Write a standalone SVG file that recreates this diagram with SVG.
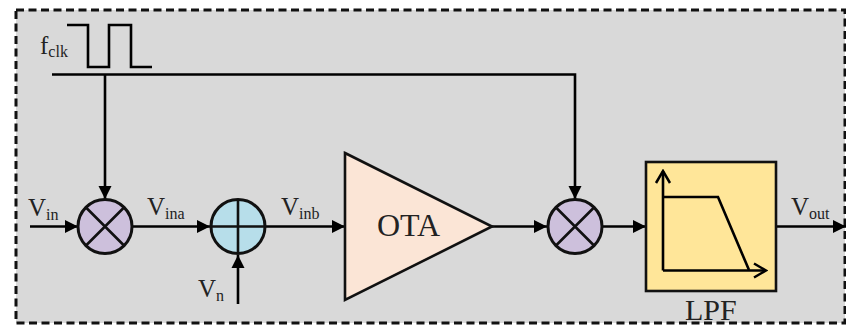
<svg xmlns="http://www.w3.org/2000/svg" width="846" height="325" viewBox="0 0 846 325">
<defs><marker id="a" markerUnits="userSpaceOnUse" markerWidth="14" markerHeight="14" refX="13" refY="7" orient="auto"><path d="M0 0.500L13 7L0 13.500Z" fill="#000"/></marker>
<marker id="o" markerUnits="userSpaceOnUse" markerWidth="16" markerHeight="18" refX="14" refY="9" orient="auto"><path d="M2 2L14 9L2 16" fill="none" stroke="#000" stroke-width="2.500"/></marker></defs>
<style>.l{fill:none;stroke:#000;stroke-width:2.600}.t{font-family:"Liberation Serif",serif;font-size:25px;fill:#222}.s{font-size:16px}.m{fill:#cdc0dc;stroke:#111;stroke-width:3}.c{fill:none;stroke:#111;stroke-width:2.600}</style>
<rect x="16" y="10" width="829" height="313" fill="#d9d9d9" stroke="#111" stroke-width="3" stroke-dasharray="8 4.500"/>
<g id="connectors">
<path class="l" d="M67 25H88V67H109V25H131V67H152"/>
<path class="l" d="M52 74.500H575V199" marker-end="url(#a)"/>
<path class="l" d="M105 74.500V199" marker-end="url(#a)"/>
<path class="l" d="M30 226.500H78" marker-end="url(#a)"/>
<path class="l" d="M133 226.500H210" marker-end="url(#a)"/>
<path class="l" d="M238 304V255" marker-end="url(#a)"/>
<path class="l" d="M266 226.500H345" marker-end="url(#a)"/>
<path class="l" d="M492 226.500H547" marker-end="url(#a)"/>
<path class="l" d="M603 226.500H646" marker-end="url(#a)"/>
<path class="l" d="M776 226.500H846" marker-end="url(#a)"/>
</g>
<g id="mixer1"><circle class="m" cx="105" cy="226.500" r="27"/><path class="c" d="M86 207.500L124 245.500M124 207.500L86 245.500"/></g>
<g id="adder"><circle cx="238" cy="226.500" r="27" fill="#b7deea" stroke="#111" stroke-width="3"/><path class="c" d="M211 226.500H265M238 199.500V253.500"/></g>
<g id="ota"><path d="M345 153L492 226.500L345 300Z" fill="#fbe5d6" stroke="#111" stroke-width="2.600"/><text class="t" x="377" y="236" style="font-size:32px">OTA</text></g>
<g id="mixer2"><circle class="m" cx="575" cy="226.500" r="27"/><path class="c" d="M556 207.500L594 245.500M594 207.500L556 245.500"/></g>
<g id="lpf"><rect x="646" y="162" width="130" height="129" fill="#ffe699" stroke="#111" stroke-width="2.600"/>
<path class="l" d="M663 270.500V171" marker-end="url(#o)"/><path class="l" d="M663 270.500H766" marker-end="url(#o)"/><path class="l" d="M663 197H718L749 270"/>
<text class="t" x="685" y="320" style="font-size:30px">LPF</text></g>
<g id="labels">
<text class="t" x="40" y="54">f<tspan class="s" dy="3">clk</tspan></text>
<text class="t" x="28" y="216">V<tspan class="s" dy="4">in</tspan></text>
<text class="t" x="147" y="215">V<tspan class="s" dy="4">ina</tspan></text>
<text class="t" x="281" y="215">V<tspan class="s" dy="4">inb</tspan></text>
<text class="t" x="198" y="297">V<tspan class="s" dy="4">n</tspan></text>
<text class="t" x="791" y="215">V<tspan class="s" dy="4">out</tspan></text>
</g>
</svg>
